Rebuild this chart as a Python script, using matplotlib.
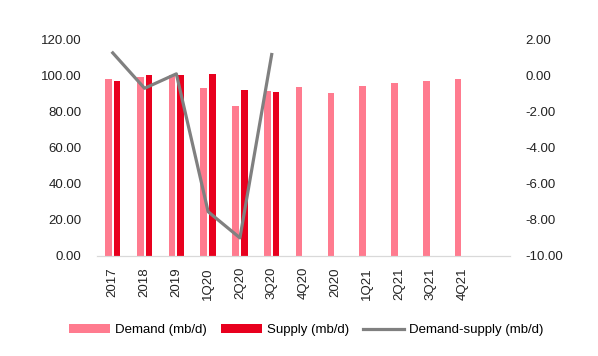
import matplotlib.pyplot as plt
import numpy as np

plt.rcParams['font.family'] = ['Liberation Sans', 'DejaVu Sans']

periods = ['2017', '2018', '2019', '1Q20', '2Q20', '3Q20', '4Q20',
           '2020', '1Q21', '2Q21', '3Q21', '4Q21']
demand = [97.7, 99.2, 99.9, 92.9, 83.0, 91.4, 93.6, 90.3, 94.2, 96.0, 96.8, 97.7]
supply = [97.0, 100.3, 100.3, 100.7, 91.8, 90.5]
demand_supply = [1.24, -0.72, 0.08, -7.55, -9.0, 1.15]

x = np.arange(len(periods))
w = 0.21

fig = plt.figure(figsize=(5.98, 3.56), dpi=100)
ax = fig.add_axes([0.162, 0.281, 0.691, 0.609])
ax2 = ax.twinx()

b1 = ax.bar(x - 0.136, demand, width=w, color='#FF7B8F', label='Demand (mb/d)')
b2 = ax.bar(x[:len(supply)] + 0.136, supply, width=w, color='#E8001E', label='Supply (mb/d)')
l1, = ax2.plot(x[:len(demand_supply)], demand_supply, color='#808080', lw=2.3,
               label='Demand-supply (mb/d)')

ax.set_xlim(-0.5, 12.5)
ax.set_ylim(0, 120)
ax2.set_ylim(-10, 2)
ax.set_yticks(np.arange(0, 121, 20))
ax.set_yticklabels(['%.2f' % v for v in np.arange(0, 121, 20)])
ax2.set_yticks(np.arange(-10, 2.1, 2))
ax2.set_yticklabels(['%.2f' % v for v in np.arange(-10, 2.1, 2)])
ax.set_xticks(x)
ax.set_xticklabels(periods, rotation=90)

for a in (ax, ax2):
    for s in ('top', 'left', 'right'):
        a.spines[s].set_visible(False)
    a.spines['bottom'].set_color('#D9D9D9')
    a.tick_params(length=0, labelsize=9.5, colors='#222222')
ax.tick_params(axis='y', pad=11)
ax2.tick_params(axis='y', pad=11)
ax.tick_params(axis='x', pad=8)

fig.legend([b1, b2, l1], ['Demand (mb/d)', 'Supply (mb/d)', 'Demand-supply (mb/d)'],
           loc='center', bbox_to_anchor=(0.5125, 0.073), ncol=3, frameon=False,
           fontsize=9.5, handlelength=3.1, columnspacing=1.06, handletextpad=0.38)

fig.savefig('out.png', dpi=100)
